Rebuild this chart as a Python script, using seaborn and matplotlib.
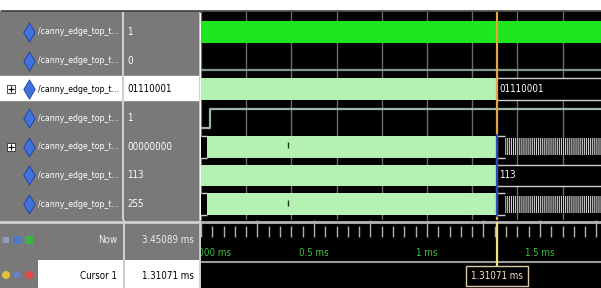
import matplotlib
matplotlib.use('Agg')
import matplotlib.pyplot as plt
import matplotlib.transforms as mtransforms
from matplotlib import font_manager as fm
from matplotlib.patches import Rectangle
from matplotlib.ticker import MultipleLocator
import seaborn as sns

# signal list (name column / value column at the cursor)
signal_names = ['/canny_edge_top_t...'] * 7
signal_values = ['1', '0', '01110001', '1', '00000000', '113', '255']
expandable = [False, False, True, False, True, False, False]

# times in ms
t_end = 1.77
cursor_t = 1.31071
now_t = 3.45089

# single bit signals: change times and levels
bit1_t = [0.0, t_end]
bit1_v = [0, 0]
bit3_t = [0.0, 0.04, t_end]
bit3_v = [0, 1, 1]

# bus rows: (start, end, kind, shown value)
bus_segments = {
    2: [(0.0, cursor_t, 'fill', ''), (cursor_t, t_end, 'value', '01110001')],
    4: [(0.0, 0.025, 'value', ''), (0.025, cursor_t, 'fill', ''),
        (cursor_t, 1.345, 'value', ''), (1.345, t_end, 'dense', '')],
    5: [(0.0, cursor_t, 'fill', ''), (cursor_t, t_end, 'value', '113')],
    6: [(0.0, 0.025, 'value', ''), (0.025, cursor_t, 'fill', ''),
        (cursor_t, 1.345, 'value', ''), (1.345, t_end, 'dense', '')],
}
glitch_t = [0.385]
label_t = [0.0, 0.5, 1.0, 1.5]
label_txt = ['0.000 ms', '0.5 ms', '1 ms', '1.5 ms']

sns.set_theme(style='dark')
plt.rcParams['font.family'] = ['Liberation Sans', 'DejaVu Sans']
plt.rcParams['hatch.color'] = '#d0d0d0'
plt.rcParams['hatch.linewidth'] = 0.8


# the viewer uses a narrow font: take a condensed face if one is installed
def pick_narrow():
    for f in fm.fontManager.ttflist:
        st = str(f.stretch).lower()
        if f.style != 'normal' or str(f.weight) not in ('400', 'normal', 'regular'):
            continue
        if 'condensed' in st or 'Narrow' in f.name or 'Condensed' in f.name:
            return fm.FontProperties(fname=f.fname)
    return fm.FontProperties(family=['Liberation Sans', 'DejaVu Sans'])


FP = pick_narrow()
FS = 7

W, H = 601, 288
GREY = '#797979'
LIGHT = '#cfcfcf'
BAND = '#b5f2b2'
CLK = '#1fe61f'
fig = plt.figure(figsize=(W / 100, H / 100), dpi=100, facecolor='white')
renderer = fig.canvas.get_renderer()


def px_axes(x0, y0, x1, y1):
    return fig.add_axes([x0 / W, 1 - y1 / H, (x1 - x0) / W, (y1 - y0) / H])


def plain(ax, fc):
    ax.set_facecolor(fc)
    ax.set_xticks([])
    ax.set_yticks([])
    for s in ax.spines.values():
        s.set_visible(False)


def txt(ax, x, y, s, size=None, **kw):
    t = ax.text(x, y, s, fontproperties=FP, **kw)
    t.set_fontsize(size or FS)
    return t


# rows: center pixel = 32 + 28.7 * row, panel from y=12 to y=220
ylims = ((220 - 32) / 28.7, (12 - 32) / 28.7)
half = 0.38
lvl = 0.33

bg = px_axes(0, 0, W, H)
plain(bg, 'white')
bg.set_xlim(0, W)
bg.set_ylim(H, 0)
bg.hlines(10.5, 0, W, color='#4a4a4a', lw=2)

# ---- name / value panel
lp = px_axes(0, 12, 200, 220)
plain(lp, GREY)
lp.set_xlim(0, 200)
lp.set_ylim(*ylims)
lp.axhspan(2 - 0.47, 2 + 0.37, color='white', zorder=0.5)
lp.axvline(123, color=LIGHT, lw=1.5)
lp.axvline(200, color=LIGHT, lw=2)
rows = list(range(len(signal_names)))
name_txt = []
for k in rows:
    tc = 'black' if k == 2 else 'white'
    name_txt.append(txt(lp, 38, k, signal_names[k], va='center', ha='left', color=tc))
    txt(lp, 127, k, signal_values[k], va='center', ha='left', color=tc)
# names must stay inside their column (38..120 px)
wid = name_txt[0].get_window_extent(renderer).width
if wid > 82:
    for t in name_txt:
        t.set_fontsize(FS * 82 / wid)
lp.scatter([29] * len(rows), rows, marker='d', s=95, color='#3f73db',
           edgecolor='#1b3f9f', lw=0.6, zorder=3)
exp_rows = [k for k in rows if expandable[k]]
lp.scatter([11] * len(exp_rows), exp_rows, marker='s', s=28, color='white',
           edgecolor='#303030', lw=0.6, zorder=3)
lp.scatter([11] * len(exp_rows), exp_rows, marker='+', s=16, color='black',
           lw=0.8, zorder=4)

# ---- waveform panel
wv = px_axes(201, 12, W, 220)
wv.set_facecolor('black')
for s in wv.spines.values():
    s.set_visible(False)
wv.set_xlim(0, t_end)
wv.set_ylim(*ylims)
wv.xaxis.set_major_locator(MultipleLocator(0.2))
wv.set_yticks([])
wv.tick_params(length=0, labelbottom=False, labelleft=False)
wv.set_axisbelow(True)
wv.grid(True, axis='x', color='#6a6a6a', lw=1)

wv.fill_between([0, t_end], -half, half, color=CLK, lw=0)
sns.lineplot(x=bit1_t, y=[1 + lvl - 2 * lvl * v for v in bit1_v], ax=wv,
             drawstyle='steps-post', color='#7d9a8a', lw=1.6,
             estimator=None, sort=False, legend=False)
sns.lineplot(x=bit3_t, y=[3 + lvl - 2 * lvl * v for v in bit3_v], ax=wv,
             drawstyle='steps-post', color='#9fb6a6', lw=1.6,
             estimator=None, sort=False, legend=False)

for row, segs in bus_segments.items():
    for t0, t1, kind, val in segs:
        if kind == 'fill':
            wv.fill_between([t0, t1], row - half, row + half, color=BAND, lw=0)
        elif kind == 'value':
            wv.fill_between([t0, t1], row - half, row + half, color='black', lw=0)
            wv.hlines([row - half, row + half], t0, t1, color=LIGHT, lw=1)
            if val:
                txt(wv, t0 + 0.008, row, val, va='center', ha='left',
                    color='white', clip_on=True)
        else:
            wv.fill_between([t0, t1], row - 0.3, row + 0.3, facecolor='black',
                            edgecolor='#d0d0d0', hatch='|' * 8, lw=0)
for row in [4, 6]:
    wv.vlines(glitch_t, row - 0.15, row + 0.05, color='#1d3a1d', lw=1)

wv.axvline(cursor_t, color='#eaa63a', lw=1.6, zorder=5)
wv.vlines(cursor_t, 4 - 0.45, 6 + 0.45, color='#2a4bbb', lw=1.6, zorder=6)

# ---- time axis and cursor row
tb = px_axes(201, 220, W, H)
plain(tb, 'black')
tb.set_xlim(0, t_end)
tb.set_ylim(H, 220)
tb.axhline(221.5, color='#b5b5b5', lw=2)
tb.axhline(262, color='#9a9a9a', lw=1.5)
tb.vlines(cursor_t, 222, 266, color='#f2e27a', lw=1.6)
for t, lab in zip(label_t, label_txt):
    tr = tb.transData
    if t == 0:
        tr = tr + mtransforms.ScaledTranslation(9 / 100, 0, fig.dpi_scale_trans)
    txt(tb, t, 253, lab, transform=tr, ha='center', va='center',
        color='#3cc43c', clip_on=True)
txt(tb, cursor_t, 276, '1.31071 ms', ha='center', va='center', color='#f3e4c6',
    zorder=6, bbox=dict(boxstyle='square,pad=0.5', fc='black', ec='#d8c8a8', lw=1))

tl = px_axes(201, 222, W, 237)
tl.set_facecolor('none')
for s in tl.spines.values():
    s.set_visible(False)
tl.set_xlim(0, t_end)
tl.set_yticks([])
tl.xaxis.set_major_locator(MultipleLocator(0.25))
tl.xaxis.set_minor_locator(MultipleLocator(0.05))
tl.tick_params(axis='x', which='major', direction='in', length=12, width=1,
               color='#b0b0b0', labelbottom=False, bottom=True)
tl.tick_params(axis='x', which='minor', direction='in', length=8, width=1,
               color='#b0b0b0', bottom=True)
tl.grid(False)

# ---- Now / Cursor rows on the left
bl = px_axes(0, 220, 201, H)
plain(bl, GREY)
bl.set_xlim(0, 201)
bl.set_ylim(H, 220)
bl.add_patch(Rectangle((38, 260), 85, 30, color='white', lw=0))
bl.add_patch(Rectangle((125, 260), 75, 30, color='white', lw=0))
bl.axhline(222, color=LIGHT, lw=2)
bl.axvline(123.5, color=LIGHT, lw=1.5)
bl.axvline(200, color=LIGHT, lw=2)
txt(bl, 117, 240, 'Now', ha='right', va='center', color='#eeeeee')
txt(bl, 194, 240, f'{now_t:.5f} ms', ha='right', va='center', color='#eeeeee')
txt(bl, 117, 276, 'Cursor 1', ha='right', va='center', color='black')
txt(bl, 194, 276, f'{cursor_t:.5f} ms', ha='right', va='center', color='black')
bl.scatter([6, 17, 29], [240, 240, 240], marker='s', s=[22, 30, 34],
           color=['#8aa0c0', '#4f78c8', '#3cb44a'], lw=0)
bl.scatter([6, 17, 29], [275, 275, 275], marker='o', s=[34, 22, 36],
           color=['#e2c040', '#6a7fd0', '#e04848'], lw=0)

fig.savefig('out.png', dpi=100, facecolor='white')
